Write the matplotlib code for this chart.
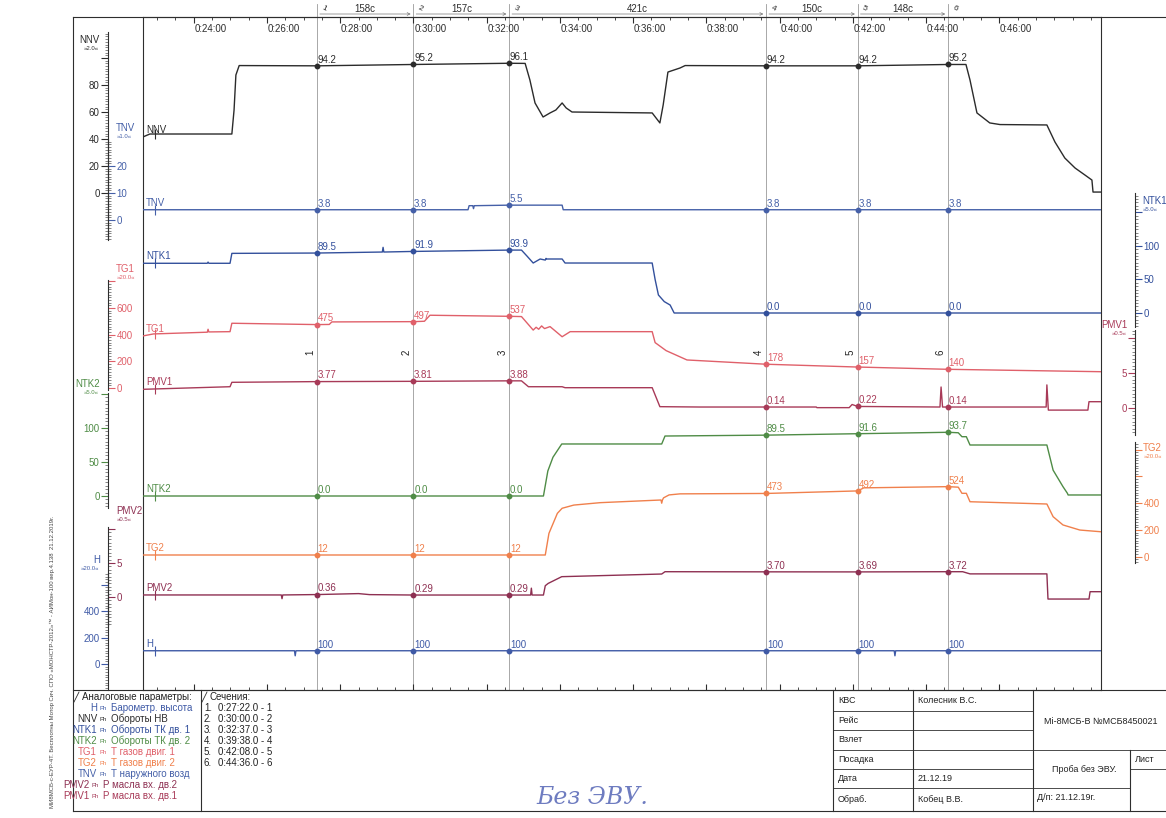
import matplotlib
matplotlib.use("Agg")
import matplotlib.pyplot as plt
from matplotlib.lines import Line2D
import matplotlib.transforms as mtransforms
import numpy as np

plt.rcParams['font.family'] = ['Liberation Sans', 'DejaVu Sans']

W, H = 1166, 818

# ---- данные ----
CURSOR_SEC = [1642, 1800, 1957, 2378, 2528, 2676]   # сечения, с
TICK_MIN = list(range(24, 48, 2))

NNV_T = [22.61, 22.80, 25.04, 25.10, 25.15, 25.24, 27.367, 30.0, 32.617, 33.05,
         33.18, 33.32, 33.54, 33.73, 33.89, 34.06, 34.17, 34.33, 36.52, 36.73,
         36.82, 36.95, 37.28, 37.42, 39.633, 42.133, 44.6, 45.09, 45.20, 45.39,
         45.74, 46.02, 47.30, 47.52, 47.79, 48.07, 48.34, 48.53, 48.56, 48.78]
NNV_V = [41.5, 43.7, 43.7, 61.5, 87.4, 94.4, 94.2, 95.2, 96.1, 96.0,
         83.7, 66.7, 56.3, 59.3, 61.5, 66.7, 63.0, 60.0, 59.3, 51.9,
         65.2, 89.6, 92.6, 94.4, 94.2, 94.2, 95.2, 95.2, 83.7, 59.3,
         51.9, 50.7, 50.4, 37.8, 25.9, 18.5, 13.3, 9.6, 0.7, 0.7]
NNV_MARKS = ["94.2", "95.2", "96.1", "94.2", "94.2", "95.2"]

TNV_T = [22.61, 31.49, 31.52, 31.62, 31.64, 31.66, 32.617, 34.06, 34.09, 48.78]
TNV_V = [3.8, 3.8, 5.3, 5.3, 4.2, 5.3, 5.5, 5.5, 3.8, 3.8]
TNV_MARKS = ["3.8", "3.8", "5.5", "3.8", "3.8", "3.8"]

NTK1_T = [22.61, 24.37, 24.39, 24.41, 24.99, 25.04, 27.367, 29.15, 29.17, 29.19,
          30.0, 32.617, 32.95, 33.10, 33.27, 33.46, 33.60, 33.62, 33.64, 34.06,
          34.14, 36.52, 36.60, 36.69, 36.85, 37.01, 37.12, 48.78]
NTK1_V = [74.2, 74.2, 76.0, 74.2, 74.2, 89.0, 89.5, 91.0, 98.0, 91.0,
          91.9, 93.9, 93.9, 85.0, 74.6, 80.6, 79.0, 81.5, 80.6, 80.6,
          74.6, 74.6, 50.0, 26.9, 17.0, 11.9, 0.0, 0.0]
NTK1_MARKS = ["89.5", "91.9", "93.9", "0.0", "0.0", "0.0"]

TG1_T = [22.61, 22.90, 24.37, 24.39, 24.41, 24.99, 25.04, 27.367, 27.70, 27.77,
         30.0, 30.30, 30.45, 32.617, 32.95, 33.27, 33.35, 33.42, 33.50, 33.58,
         33.73, 34.06, 34.28, 36.52, 36.60, 36.90, 37.47, 39.633, 42.133, 44.6, 48.78]
TG1_V = [390, 405, 418, 440, 420, 422, 485, 475, 476, 495,
         497, 500, 545, 537, 535, 434, 455, 440, 465, 445,
         460, 384, 422, 422, 340, 280, 210, 178, 157, 140, 122]
TG1_MARKS = ["475", "497", "537", "178", "157", "140"]

PMV1_T = [22.61, 24.99, 25.04, 27.367, 30.0, 32.617, 32.95, 33.14, 34.06, 34.14,
          36.52, 36.73, 37.82, 39.633, 41.00, 41.02, 41.90, 41.98, 42.133, 44.38,
          44.41, 44.45, 44.6, 47.28, 47.30, 47.34, 48.42, 48.45, 48.78]
PMV1_V = [2.67, 3.04, 3.67, 3.77, 3.81, 3.88, 3.88, 3.04, 3.04, 2.90,
          2.90, 0.19, 0.14, 0.14, 0.14, 0.05, 0.05, 0.5, 0.22, 0.14,
          3.0, 0.14, 0.14, 0.14, 3.3, -0.3, -0.3, 0.9, 0.9]
PMV1_MARKS = ["3.77", "3.81", "3.88", "0.14", "0.22", "0.14"]

NTK2_T = [22.61, 33.55, 33.67, 33.81, 34.05, 36.78, 36.87, 39.633, 42.133, 44.6,
          44.88, 44.98, 45.10, 45.20, 47.30, 47.47, 47.74, 47.86, 47.88, 48.78]
NTK2_V = [0.0, 0.0, 36.8, 57.0, 76.5, 76.5, 88.2, 89.5, 91.6, 93.7,
          93.0, 87.2, 87.2, 75.0, 75.0, 38.0, 13.7, 4.0, 1.5, 1.5]
NTK2_MARKS = ["0.0", "0.0", "0.0", "89.5", "91.6", "93.7"]

TG2_T = [22.61, 33.60, 33.70, 33.93, 34.06, 34.38, 35.10, 36.76, 36.78, 36.80,
         36.83, 36.98, 37.28, 39.633, 42.133, 42.30, 44.6, 44.88, 44.98, 45.10,
         45.20, 47.30, 47.47, 47.74, 48.20, 48.78]
TG2_V = [12, 12, 174, 324, 362, 386, 404, 424, 400, 424,
         440, 462, 470, 473, 492, 515, 524, 520, 474, 474,
         411, 394, 299, 237, 199, 186]
TG2_MARKS = ["12", "12", "12", "473", "492", "524"]

PMV2_T = [22.61, 26.39, 26.41, 26.43, 27.367, 28.5, 28.8, 30.0, 32.617, 33.20,
          33.22, 33.24, 33.55, 33.60, 33.68, 34.05, 36.78, 36.87, 39.633, 42.133,
          44.6, 45.00, 45.20, 47.30, 47.33, 48.45, 48.48, 48.78]
PMV2_V = [0.30, 0.30, -0.25, 0.30, 0.36, 0.50, 0.35, 0.29, 0.29, 0.29,
          1.30, 0.29, 0.29, 1.66, 2.0, 2.99, 3.38, 3.72, 3.70, 3.69,
          3.72, 3.72, 3.40, 3.40, -0.30, -0.30, 0.78, 0.78]
PMV2_MARKS = ["0.36", "0.29", "0.29", "3.70", "3.69", "3.72"]

H_T = [22.61, 26.75, 26.77, 26.79, 43.13, 43.15, 43.17, 48.78]
H_V = [100, 100, 62, 100, 100, 62, 100, 100]
H_MARKS = ["100", "100", "100", "100", "100", "100"]

LEGEND_ROWS = [("H", "Барометр. высота"), ("NNV", "Обороты НВ"),
               ("NTK1", "Обороты ТК дв. 1"), ("NTK2", "Обороты ТК дв. 2"),
               ("TG1", "Т газов двиг. 1"), ("TG2", "Т газов двиг. 2"),
               ("TNV", "Т наружного возд"), ("PMV2", "Р масла вх. дв.2"),
               ("PMV1", "Р масла вх. дв.1")]

TABLE_LEFT = ["КВС", "Рейс", "Взлет", "Посадка", "Дата", "Обраб."]
TABLE_MID = ["Колесник В.С.", "", "", "", "21.12.19", "Кобец В.В."]

# ---- оформление ----
PLOT_L, PLOT_R, PLOT_T, PLOT_B = 143, 1101, 17, 690
RECT = [PLOT_L / W, 1 - PLOT_B / H, (PLOT_R - PLOT_L) / W, (PLOT_B - PLOT_T) / H]
XLIM = (22.613, 48.778)
DARK = '#2e2e2e'

# цвет, y нуля (px), px на единицу
STYLE = {
    'NNV': ('#2b2b2b', 193, 1.35),
    'TNV': ('#4560a8', 220, 2.7),
    'NTK1': ('#33509c', 313, 0.67),
    'TG1': ('#e0606a', 388, 0.1335),
    'PMV1': ('#a83a58', 408, 7.0),
    'NTK2': ('#4f8c46', 496, 0.68),
    'TG2': ('#f0804c', 556.6, 0.1335),
    'PMV2': ('#8e3052', 597, 6.8),
    'H': ('#3f5aa6', 664, 0.1325),
}

TRACES = [('NNV', NNV_T, NNV_V, NNV_MARKS), ('TNV', TNV_T, TNV_V, TNV_MARKS),
          ('NTK1', NTK1_T, NTK1_V, NTK1_MARKS), ('TG1', TG1_T, TG1_V, TG1_MARKS),
          ('PMV1', PMV1_T, PMV1_V, PMV1_MARKS), ('NTK2', NTK2_T, NTK2_V, NTK2_MARKS),
          ('TG2', TG2_T, TG2_V, TG2_MARKS), ('PMV2', PMV2_T, PMV2_V, PMV2_MARKS),
          ('H', H_T, H_V, H_MARKS)]

# name, x px, side, low, high, majors, labels, minor step
SCALES = [
    ('NNV', 108, 'left', -35, 119, [0, 20, 40, 60, 80, 100], ['0', '20', '40', '60', '80', ''], 2),
    ('TNV', 108, 'right', -7, 30, [0, 10, 20], ['0', '10', '20'], 1),
    ('TG1', 108, 'right', -15, 809, [0, 200, 400, 600, 800], ['0', '200', '400', '600', ''], 20),
    ('NTK2', 108, 'left', -17, 151, [0, 50, 100, 150], ['0', '50', '100', ''], 5),
    ('PMV2', 108, 'right', -4.1, 10.3, [0, 5, 10], ['0', '5', ''], 0.5),
    ('H', 108, 'left', -196, 687, [0, 200, 400, 600], ['0', '200', '400', ''], 20),
    ('NTK1', 1135, 'right', -21, 179, [0, 50, 100, 150], ['0', '50', '100', ''], 5),
    ('PMV1', 1135, 'left', -3.9, 11.1, [0, 5, 10], ['0', '5', ''], 0.5),
    ('TG2', 1135, 'right', -48, 858, [0, 200, 400, 600, 800], ['0', '200', '400', '', ''], 20),
]

# name, scale, x px, y px, align
SCALE_HEAD = [('NNV', '»2.0«', 100, 40, 'right'), ('TNV', '»1.0«', 116, 128, 'left'),
              ('TG1', '»20.0«', 116, 269, 'left'), ('NTK2', '»5.0«', 100, 384, 'right'),
              ('PMV2', '»0.5«', 116, 511, 'left'), ('H', '»20.0«', 100, 560, 'right'),
              ('NTK1', '»5.0«', 1142, 201, 'left'), ('PMV1', '»0.5«', 1128, 325, 'right'),
              ('TG2', '»20.0«', 1143, 448, 'left')]


def ylim_for(name):
    _, y0, k = STYLE[name]
    return ((y0 - PLOT_B) / k, (y0 - PLOT_T) / k)


def line_px(x0, y0, x1, y1, lw=0.8, color=DARK):
    fig.add_artist(Line2D([x0 / W, x1 / W], [1 - y0 / H, 1 - y1 / H], lw=lw, color=color))


def text_px(x, y, s, **kw):
    kw.setdefault('fontsize', 7)
    kw.setdefault('va', 'center')
    fig.text(x / W, 1 - y / H, s, **kw)


def fy_axes(py):
    return (PLOT_B - py) / (PLOT_B - PLOT_T)


fig = plt.figure(figsize=(W / 100, H / 100), dpi=100)

# основная ось времени
ax = fig.add_axes(RECT)
ax.set_xlim(XLIM)
ax.set_ylim(0, 1)
ax.set_yticks([])
for s in ax.spines.values():
    s.set_color(DARK)
    s.set_linewidth(0.8)
ax.set_xticks(TICK_MIN)
ax.set_xticks(np.arange(23.0, 48.8, 0.5), minor=True)
ax.tick_params(axis='x', which='both', direction='in', top=True, bottom=True,
               labelbottom=False, labeltop=False, color=DARK)
ax.tick_params(axis='x', which='major', length=4)
ax.tick_params(axis='x', which='minor', length=2.5)
blend = mtransforms.blended_transform_factory(ax.transData, ax.transAxes)
for m in TICK_MIN:
    ax.annotate(f"0:{m:02d}:00", (m, 1), xycoords=blend, xytext=(0.5, -5),
                textcoords='offset points', ha='left', va='top', fontsize=7, color=DARK)

cur_min = [s / 60 for s in CURSOR_SEC]
for i, cm in enumerate(cur_min):
    ax.plot([cm, cm], [0, fy_axes(4)], transform=blend, color='#9a9a9a', lw=0.6,
            clip_on=False, zorder=1)
    ax.annotate(str(i + 1), (cm, fy_axes(9)), xycoords=blend, xytext=(2.5, 0),
                textcoords='offset points', ha='left', va='center', fontsize=6,
                rotation=-25, color=DARK, annotation_clip=False)
    ax.annotate(str(i + 1), (cm, fy_axes(352)), xycoords=blend, xytext=(-1.5, 0),
                textcoords='offset points', ha='right', va='center', fontsize=7,
                rotation=90, color='#222')
for i in range(len(cur_min) - 1):
    a, b = cur_min[i], cur_min[i + 1]
    ax.annotate('', xy=(b, fy_axes(14)), xytext=(a, fy_axes(14)), xycoords=blend,
                arrowprops=dict(arrowstyle='->', lw=0.5, color='#777', mutation_scale=5),
                annotation_clip=False)
    ax.text((a + b) / 2, fy_axes(9), f"{CURSOR_SEC[i + 1] - CURSOR_SEC[i]}c",
            transform=blend, ha='center', va='center', fontsize=7, color=DARK, clip_on=False)

# кривые
TAG_T = 22.94
for name, t, v, marks in TRACES:
    color = STYLE[name][0]
    tax = fig.add_axes(RECT, frameon=False)
    tax.set_xlim(XLIM)
    tax.set_ylim(ylim_for(name))
    tax.axis('off')
    tax.plot(t, v, color=color, lw=1.0)
    tax.plot([TAG_T], [np.interp(TAG_T, t, v)], marker='|', ms=7, mew=0.8, color=color)
    tax.annotate(name, (XLIM[0], v[0]), xytext=(2, 1.5), textcoords='offset points',
                 ha='left', va='bottom', fontsize=7, color=color)
    mv = [float(s) for s in marks]
    tax.plot(cur_min, mv, 'o', ms=3.2, color=color)
    for cm, val, s in zip(cur_min, mv, marks):
        tax.annotate(s, (cm, val), xytext=(0.5, 0.8), textcoords='offset points',
                     ha='left', va='bottom', fontsize=7, color=color)

# шкалы
for name, xpx, side, lo, hi, majors, labels, minor in SCALES:
    color = STYLE[name][0]
    sax = fig.add_axes([xpx / W, RECT[1], 0.00001, RECT[3]])
    sax.patch.set_visible(False)
    sax.set_ylim(ylim_for(name))
    sax.set_xticks([])
    for sp in sax.spines.values():
        sp.set_visible(False)
    sp = sax.spines[side]
    sp.set_visible(True)
    sp.set_bounds(lo, hi)
    sp.set_color(DARK)
    sp.set_linewidth(0.8)
    sax.yaxis.set_ticks_position(side)
    sax.set_yticks(majors)
    sax.set_yticklabels(labels)
    sax.set_yticks(np.arange(np.ceil(lo / minor) * minor, hi, minor), minor=True)
    sax.tick_params(axis='y', which='major', length=5, width=0.8, color=color,
                    labelcolor=color, labelsize=7, pad=1)
    sax.tick_params(axis='y', which='minor', length=2.5, width=0.5, color='#555')

for name, sub, xpx, ypx, al in SCALE_HEAD:
    color = STYLE[name][0]
    text_px(xpx, ypx, name, ha=al, color=color, fontsize=7)
    text_px(xpx - (1 if al == 'right' else -1), ypx + 8.5, sub, ha=al, color=color, fontsize=4.3)

# рамки
line_px(73, 17, 1166, 17)
line_px(73, 17, 73, 811)
line_px(73, 690, 1166, 690)
line_px(73, 811, 1166, 811)
line_px(201, 690, 201, 811)

# легенда
line_px(74, 702, 79, 692, lw=0.6)
text_px(82, 697, "Аналоговые параметры:", ha='left', color='#222')
line_px(202, 702, 207, 692, lw=0.6)
text_px(209, 697, "Сечения:", ha='left', color='#222')
for i, (name, desc) in enumerate(LEGEND_ROWS):
    y = 708 + i * 11
    c = STYLE[name][0]
    shift = 8 if name.startswith('PMV') else 0
    text_px(97 - shift, y, name, ha='right', color=c)
    text_px(100 - shift, y + 0.5, "Ph", ha='left', color=c, fontsize=4.3)
    text_px(111 - shift, y, desc, ha='left', color=c)
for i, sec in enumerate(CURSOR_SEC):
    y = 708 + i * 11
    text_px(204, y, f"{i + 1}.", ha='left', color='#222')
    text_px(218, y, f"0:{sec // 60:02d}:{sec % 60:02d}.0 - {i + 1}", ha='left', color='#222')

# штамп
ROWS = [690, 711, 730, 750, 769, 788, 810]
line_px(833, 690, 833, 811)
line_px(913, 690, 913, 811)
line_px(1033, 690, 1033, 811)
line_px(1130, 750, 1130, 811)
for y in ROWS[1:-1]:
    line_px(833, y, 1033, y, lw=0.6)
line_px(1033, 750, 1166, 750, lw=0.6)
line_px(1033, 788, 1130, 788, lw=0.6)
line_px(1130, 769, 1166, 769, lw=0.6)
for i in range(6):
    yc = (ROWS[i] + ROWS[i + 1]) / 2
    text_px(838, yc, TABLE_LEFT[i], ha='left', color='#222', fontsize=6.5)
    if TABLE_MID[i]:
        text_px(918, yc, TABLE_MID[i], ha='left', color='#222', fontsize=6.5)
text_px(1101, 721, "Mi-8МСБ-В №МСБ8450021", ha='center', color='#222', fontsize=6.5)
text_px(1084, 769, "Проба без ЭВУ.", ha='center', color='#222', fontsize=6.5)
text_px(1135, 759, "Лист", ha='left', color='#222', fontsize=6.5)
text_px(1037, 798, "Д/п: 21.12.19г.", ha='left', color='#222', fontsize=6.5)

text_px(592, 797, "Без ЭВУ.", ha='center', color='#5565b5', fontsize=17,
        family=['DejaVu Serif'], style='italic', alpha=0.85)

text_px(52, 808, "МИ8МСБ-с-ЕУР-4Т. Бесплотны Мотор Сич. СПО «МОНСТР-2012»™ - АИМон-100 вер.4.138  21.12.2019г.",
        ha='left', va='center', rotation=90, rotation_mode='anchor', fontsize=4.3, color='#444')

fig.savefig("out.png", dpi=100)
